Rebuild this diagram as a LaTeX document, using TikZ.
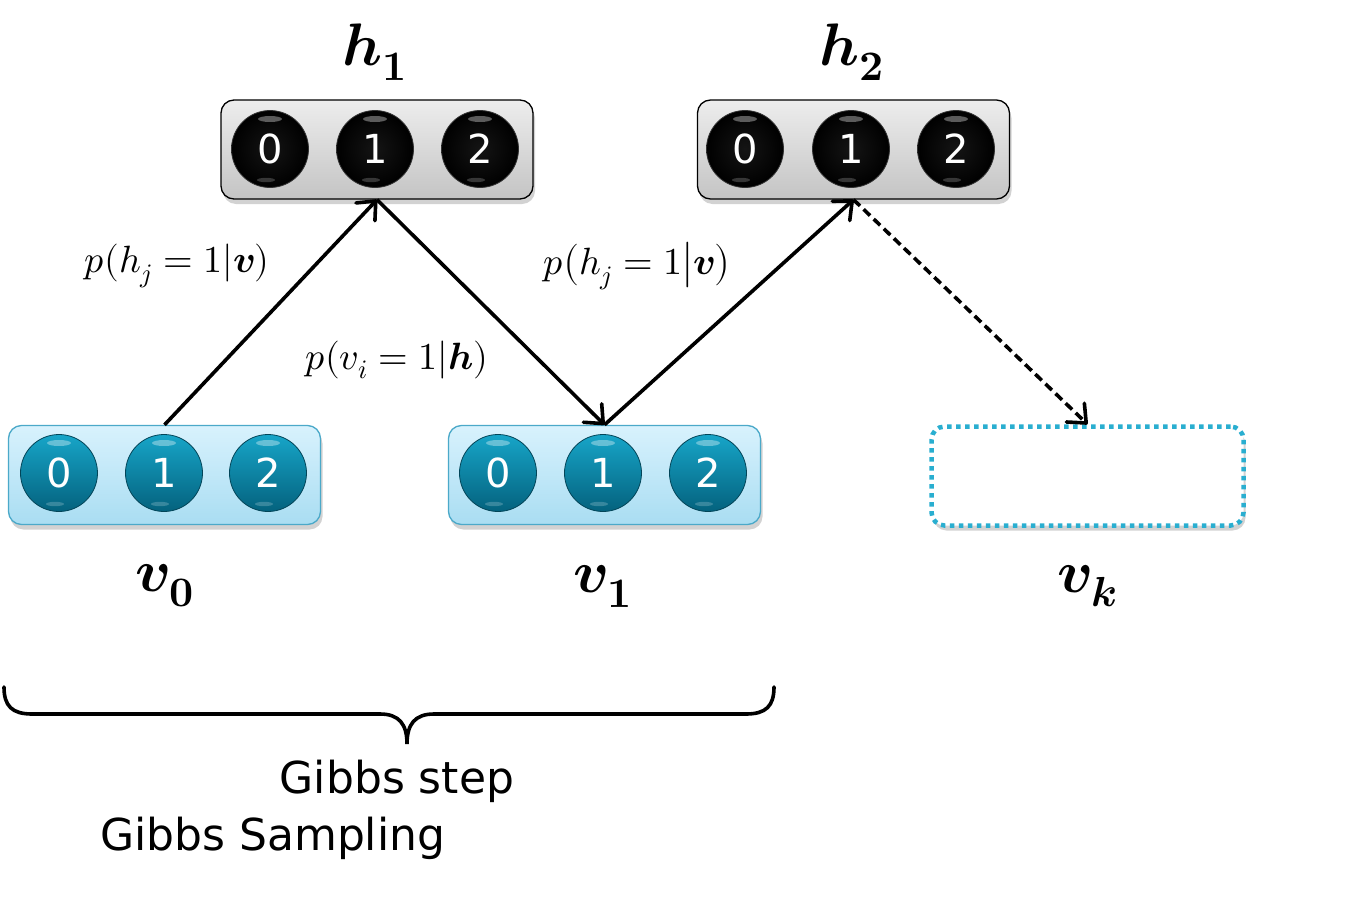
\documentclass[tikz,border=0pt]{standalone}
\usepackage{amsmath}
\usepackage{fontspec}
\usepackage{unicode-math}
\setmathfont{Latin Modern Math}
\newfontfamily\sansf{DejaVu Sans}
\usetikzlibrary{shadows,arrows.meta}
\definecolor{hTop}{HTML}{EDEDED}
\definecolor{hBot}{HTML}{C4C4C4}
\definecolor{vTop}{HTML}{D8F2FD}
\definecolor{vBot}{HTML}{A9DDF2}
\definecolor{vEdge}{HTML}{4BA9C9}
\definecolor{kEdge}{HTML}{29AED0}
\definecolor{bbTop}{HTML}{17A5C8}
\definecolor{bbBot}{HTML}{04627E}
\tikzset{
  layerbox/.style={rounded corners=13pt, minimum width=312pt, minimum height=99pt,
    drop shadow={shadow xshift=2pt, shadow yshift=-5pt, opacity=0.35}},
  hbox/.style={layerbox, draw=black, line width=1.3pt, top color=hTop, bottom color=hBot},
  vbox/.style={layerbox, draw=vEdge, line width=1.3pt, top color=vTop, bottom color=vBot},
  kbox/.style={layerbox, draw=kEdge, line width=4.5pt, dash pattern=on 4.5pt off 4.5pt, fill=white},
  unit/.style={circle, minimum size=77pt, inner sep=0pt, text=white,
    font=\sansf\fontsize{40}{40}\selectfont},
  hunit/.style={unit, draw=black!80, line width=0.8pt, inner color=black!92, outer color=black},
  vunit/.style={unit, draw=bbBot!70!black, line width=0.8pt, top color=bbTop, bottom color=bbBot},
  flow/.style={line width=3.6pt, -{Straight Barb[length=15pt,width=26pt,line width=3.6pt,round]}},
  cond/.style={font=\fontsize{38}{44}\selectfont},
  layerlabel/.style={font=\fontsize{60}{70}\selectfont},
  gibbs/.style={font=\sansf\fontsize{44}{50}\selectfont},
}
\newcommand\rbmunit[5]{%
  \node[#5] (#1) at (#2,#3) {#4};
  \fill[white, opacity=0.35] ({#2},{#3-30}) ellipse (12pt and 3pt);
  \fill[white, opacity=0.20] ({#2-4},{#3+31}) ellipse (9pt and 2.2pt);
}
\begin{document}
\begin{tikzpicture}[x=1pt,y=-1pt]
\useasboundingbox (0,0) rectangle (1353,900);
\fill[white] (0,0) rectangle (1353,900);

% layer boxes
\node[hbox] (h1) at (377,149.5) {};
\node[hbox] (h2) at (853.5,149.5) {};
\node[vbox] (v0) at (164.5,475) {};
\node[vbox] (v1) at (604.5,475) {};
\node[kbox] (vk) at (1087.5,476) {};

% units
\rbmunit{h1a}{270}{149}{0}{hunit}
\rbmunit{h1b}{375}{149}{1}{hunit}
\rbmunit{h1c}{480}{149}{2}{hunit}
\rbmunit{h2a}{745}{149}{0}{hunit}
\rbmunit{h2b}{851}{149}{1}{hunit}
\rbmunit{h2c}{956}{149}{2}{hunit}
\rbmunit{v0a}{59}{473}{0}{vunit}
\rbmunit{v0b}{164}{473}{1}{vunit}
\rbmunit{v0c}{268}{473}{2}{vunit}
\rbmunit{v1a}{498}{473}{0}{vunit}
\rbmunit{v1b}{603}{473}{1}{vunit}
\rbmunit{v1c}{708}{473}{2}{vunit}

% layer labels
\node[layerlabel] (lh1) at (375,52) {$\symbfit{h}_{\symbf{1}}$};
\node[layerlabel] (lh2) at (852,52) {$\symbfit{h}_{\symbf{2}}$};
\node[layerlabel] (lv0) at (165,586) {$\symbfit{v}_{\symbf{0}}$};
\node[layerlabel] (lv1) at (603,586) {$\symbfit{v}_{\symbf{1}}$};
\node[layerlabel] (lvk) at (1087,586) {$\symbfit{v}_{\symbfit{k}}$};

% chain
\draw[flow] (v0.north) -- (h1.south);
\draw[flow] (h1.south) -- (v1.north);
\draw[flow] (v1.north) -- (h2.south);
\draw[flow, dash pattern=on 9pt off 5pt] (h2.south) -- (vk.north);

% conditionals
\node[cond] (c1) at (177,266) {$p(h_j = 1|\symbfit{v})$};
\node[cond] (c2) at (397,360) {$p(v_i = 1|\symbfit{h})$};
\node[cond] (c3) at (637,266) {$p\bigl(h_j = 1\big|\symbfit{v}\bigr)$};

% brace
\draw[line width=3.6pt, line cap=round]
  (4,687) .. controls (4,706) and (12,714) .. (32,714)
  -- (380,714) .. controls (399,714) and (407,724) .. (407,744)
  .. controls (407,724) and (415,714) .. (434,714)
  -- (746,714) .. controls (766,714) and (774,706) .. (774,687);

% texts
\node[gibbs] (gs) at (397,781) {Gibbs step};
\node[gibbs, anchor=west, inner sep=0pt] (gsam) at (100,838) {Gibbs Sampling};
\end{tikzpicture}
\end{document}
